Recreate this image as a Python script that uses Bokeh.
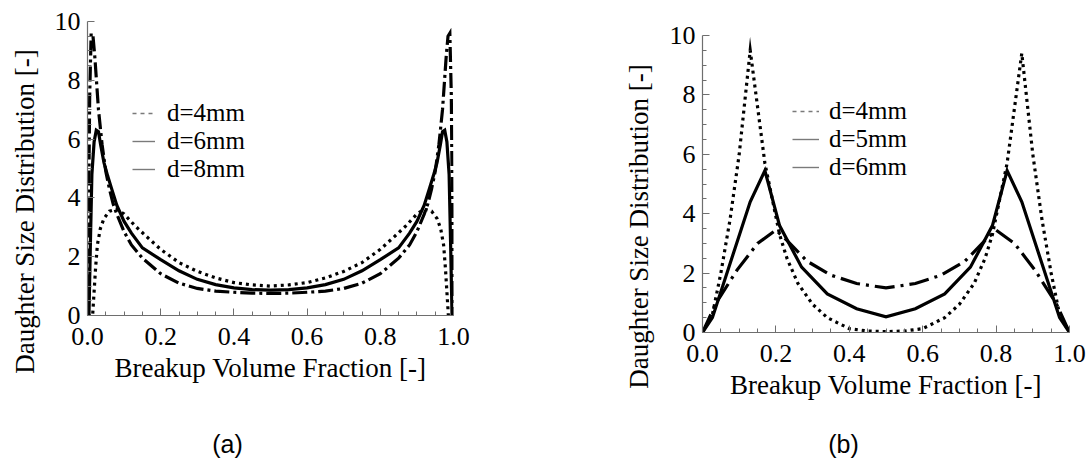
import math
from bokeh.plotting import figure
from bokeh.layouts import row, column
from bokeh.models import (FixedTicker, Legend, LegendItem, Label, Range1d,
                          PrintfTickFormatter)
from bokeh.embed import file_html
from bokeh.resources import INLINE

# ---------------- data: panel (a) ----------------
a_labels = ["d=4mm", "d=6mm", "d=8mm"]
a_x_4mm = [0.0, 0.014, 0.018, 0.022, 0.027, 0.035, 0.045, 0.06, 0.08, 0.10, 0.13, 0.16, 0.20, 0.25,
           0.30, 0.35, 0.40, 0.45, 0.50, 0.55, 0.60, 0.65, 0.70, 0.75, 0.80, 0.84, 0.87, 0.90, 0.92,
           0.94, 0.955, 0.965, 0.973, 0.978, 0.982, 0.986, 1.0]
a_y_4mm = [0.0, 0.0, 0.8, 1.6, 2.4, 2.95, 3.3, 3.55, 3.62, 3.45, 3.05, 2.7, 2.25, 1.8, 1.5, 1.28,
           1.12, 1.04, 1.0, 1.04, 1.12, 1.28, 1.5, 1.8, 2.25, 2.7, 3.05, 3.45, 3.62, 3.55, 3.3, 2.95,
           2.4, 1.6, 0.8, 0.0, 0.0]
a_x_6mm = [0.0, 0.004, 0.008, 0.012, 0.018, 0.024, 0.03, 0.036, 0.045, 0.055, 0.065, 0.08, 0.1,
           0.12, 0.15, 0.2, 0.25, 0.3, 0.35, 0.4, 0.45, 0.5,
           0.55, 0.6, 0.65, 0.7, 0.75, 0.8, 0.85, 0.88, 0.9, 0.92, 0.935, 0.945, 0.955, 0.964,
           0.97, 0.976, 0.982, 0.988, 0.992, 0.996, 1.0]
a_y_6mm = [0.0, 0.0, 2.5, 4.8, 5.9, 6.3, 6.25, 5.8, 5.2, 4.75, 4.35, 3.75, 3.2, 2.8, 2.3, 1.9, 1.52,
           1.23, 1.05, 0.94, 0.88, 0.86,
           0.88, 0.94, 1.05, 1.23, 1.52, 1.9, 2.3, 2.8, 3.2, 3.75, 4.35, 4.75, 5.2, 5.8, 6.25, 6.3,
           5.9, 4.8, 2.5, 0.0, 0.0]
a_x_8mm = [0.0, 0.003, 0.006, 0.01, 0.015, 0.02, 0.025, 0.03, 0.04, 0.05, 0.06, 0.07, 0.08, 0.1,
           0.12, 0.15, 0.2, 0.25, 0.3, 0.35, 0.4, 0.45, 0.5,
           0.55, 0.6, 0.65, 0.7, 0.75, 0.8, 0.85, 0.88, 0.9, 0.92, 0.93, 0.94, 0.95, 0.96, 0.97,
           0.975, 0.98, 0.985, 0.99, 0.994, 0.997, 1.0]
a_y_8mm = [0.0, 3.5, 7.5, 9.6, 9.5, 8.8, 7.9, 7.0, 5.8, 4.9, 4.3, 3.8, 3.45, 2.85, 2.4, 1.95, 1.42,
           1.1, 0.92, 0.83, 0.79, 0.76, 0.75,
           0.76, 0.79, 0.83, 0.92, 1.1, 1.42, 1.95, 2.4, 2.85, 3.45, 3.8, 4.3, 4.9, 5.8, 7.0, 7.9,
           8.8, 9.5, 9.6, 7.5, 3.5, 0.0]

# ---------------- data: panel (b) ----------------
b_labels = ["d=4mm", "d=5mm", "d=6mm"]
b_x_4mm = [0.0, 0.027, 0.05, 0.075, 0.1, 0.13, 0.17, 0.21, 0.23, 0.26, 0.3, 0.34, 0.4, 0.45, 0.5,
           0.55, 0.6, 0.66, 0.7, 0.74, 0.77, 0.79, 0.83, 0.87, 0.9, 0.925, 0.95, 0.973, 1.0]
b_y_4mm = [0.0, 0.6, 2.0, 3.8, 6.0, 9.5, 5.7, 3.3, 2.5, 1.65, 0.95, 0.5, 0.13, 0.05, 0.03, 0.05,
           0.13, 0.5, 0.95, 1.65, 2.5, 3.3, 5.7, 9.4, 6.0, 3.8, 2.0, 0.6, 0.0]
b_x_5mm = [0.0, 0.027, 0.13, 0.17, 0.21, 0.27, 0.34, 0.42, 0.5, 0.58, 0.66, 0.73, 0.79, 0.83, 0.87,
           0.973, 1.0]
b_y_5mm = [0.0, 0.5, 4.4, 5.45, 3.6, 2.2, 1.3, 0.8, 0.53, 0.8, 1.3, 2.2, 3.6, 5.45, 4.4, 0.5, 0.0]
b_x_6mm = [0.0, 0.036, 0.094, 0.15, 0.2, 0.23, 0.285, 0.35, 0.42, 0.5, 0.58, 0.65, 0.715, 0.77,
           0.8, 0.85, 0.906, 0.964, 1.0]
b_y_6mm = [0.0, 0.97, 2.1, 3.0, 3.45, 3.1, 2.4, 1.93, 1.65, 1.5, 1.65, 1.93, 2.4, 3.1, 3.45, 3.0,
           2.1, 0.97, 0.0]

# ---------------- ticks / texts ----------------
x_major_ticks = [0.0, 0.2, 0.4, 0.6, 0.8, 1.0]
x_minor_ticks = [0.05, 0.1, 0.15, 0.25, 0.3, 0.35, 0.45, 0.5, 0.55, 0.65, 0.7, 0.75, 0.85, 0.9, 0.95]
y_major_ticks = [0, 2, 4, 6, 8, 10]
y_minor_ticks = [0.5, 1, 1.5, 2.5, 3, 3.5, 4.5, 5, 5.5, 6.5, 7, 7.5, 8.5, 9, 9.5]
x_title = "Breakup Volume Fraction [-]"
y_title = "Daughter Size Distribution [-]"
captions = ["(a)", "(b)"]

SERIF = "Liberation Serif"
FS = "26px"
FS_LEG = "25px"
FS_TITLE = "27px"
AXIS_GRAY = "#6e6e6e"
NAN = float("nan")
H = 427


def blank(width, height):
    f = figure(width=width, height=height, output_backend="svg", toolbar_location=None,
               title=None, x_range=Range1d(0, 1), y_range=Range1d(0, 1),
               min_border_left=0, min_border_right=0, min_border_top=0, min_border_bottom=0)
    f.axis.visible = False
    f.grid.visible = False
    f.outline_line_color = None
    f.frame_align = False
    return f


def ylabel_strip(width, cx, cy):
    f = blank(width, H)
    f.add_layout(Label(x=cx, y=cy, x_units="screen", y_units="screen", text=y_title,
                       angle=math.pi / 2, text_align="center", text_baseline="middle",
                       text_font=SERIF, text_font_size=FS_TITLE, text_color="black"))
    return f


def make_panel(width, b_left, b_right, b_top, b_bottom):
    p = figure(width=width, height=H, output_backend="svg", toolbar_location=None,
               title=None, x_range=Range1d(0, 1), y_range=Range1d(0, 10),
               min_border_left=b_left, min_border_right=b_right,
               min_border_top=b_top, min_border_bottom=b_bottom)
    p.frame_align = False
    p.outline_line_color = None
    p.grid.visible = False
    p.background_fill_color = "white"
    p.border_fill_color = "white"
    p.xaxis.ticker = FixedTicker(ticks=x_major_ticks, minor_ticks=x_minor_ticks)
    p.yaxis.ticker = FixedTicker(ticks=y_major_ticks, minor_ticks=y_minor_ticks)
    p.xaxis.formatter = PrintfTickFormatter(format="%.1f")
    p.yaxis.formatter = PrintfTickFormatter(format="%d")
    for ax in (p.xaxis, p.yaxis):
        ax.axis_line_color = AXIS_GRAY
        ax.axis_line_width = 1.2
        ax.major_tick_line_color = AXIS_GRAY
        ax.minor_tick_line_color = AXIS_GRAY
        ax.major_tick_in = 7
        ax.major_tick_out = 0
        ax.minor_tick_in = 4
        ax.minor_tick_out = 0
        ax.major_label_text_font = SERIF
        ax.major_label_text_font_size = FS
        ax.major_label_text_color = "black"
        ax.axis_label_text_font = SERIF
        ax.axis_label_text_font_size = FS_TITLE
        ax.axis_label_text_font_style = "normal"
        ax.axis_label_text_color = "black"
    p.xaxis.major_label_standoff = 12
    p.yaxis.major_label_standoff = 7
    p.xaxis.axis_label = x_title
    p.xaxis.axis_label_standoff = 5
    return p


def add_series(p, xs, ys, labels, dashes, sample_dashes, locs, gw, standoff):
    for x, y, d in zip(xs, ys, dashes):
        p.line(x, y, line_color="black", line_width=3.2, line_dash=d, line_cap="butt",
               line_join="miter")
    for lab, sd, loc in zip(labels, sample_dashes, locs):
        proxy = p.line([NAN], [NAN], line_color="#7a7a7a", line_width=1.4, line_dash=sd)
        leg = Legend(items=[LegendItem(label=lab, renderers=[proxy])], location=loc,
                     glyph_width=gw, glyph_height=20, label_height=20,
                     label_standoff=standoff, label_text_font=SERIF, label_text_font_size=FS_LEG,
                     label_text_color="black", label_text_baseline="middle",
                     spacing=0, padding=0, margin=0,
                     border_line_color=None, background_fill_alpha=0)
        p.add_layout(leg)


# page x: la 0..44, pa 44..612, lb 612..662, pb 662..1090
la = ylabel_strip(44, 24, 216)
pa = make_panel(568, 43, 159, 21, 112)          # frame x 87..453, y 21..315
add_series(pa, [a_x_4mm, a_x_6mm, a_x_8mm], [a_y_4mm, a_y_6mm, a_y_8mm], a_labels,
           ["3 4", "solid", "15 4 3 4"], ["4 4", "solid", "solid"],
           [(45, 188), (45, 160), (45, 132)], 23, 12)

lb = ylabel_strip(50, 26, 201)
pb = make_panel(428, 40, 21, 35, 95)            # frame x 702..1069, y 35..332
add_series(pb, [b_x_4mm, b_x_5mm, b_x_6mm], [b_y_4mm, b_y_5mm, b_y_6mm], b_labels,
           ["3 4", "solid", "20 6 3 6"], ["4 4", "solid", "solid"],
           [(90, 207), (90, 179), (90, 151)], 27, 10)

# caption strip
cap = blank(1090, 32)
for txt, cx in zip(captions, [227, 843]):
    cap.add_layout(Label(x=cx, y=16, x_units="screen", y_units="screen", text=txt,
                         text_align="center", text_baseline="middle",
                         text_font="Liberation Sans", text_font_size="25px",
                         text_color="black"))

layout = column(row(la, pa, lb, pb), cap)
open("out.html", "w").write(file_html(layout, INLINE))
